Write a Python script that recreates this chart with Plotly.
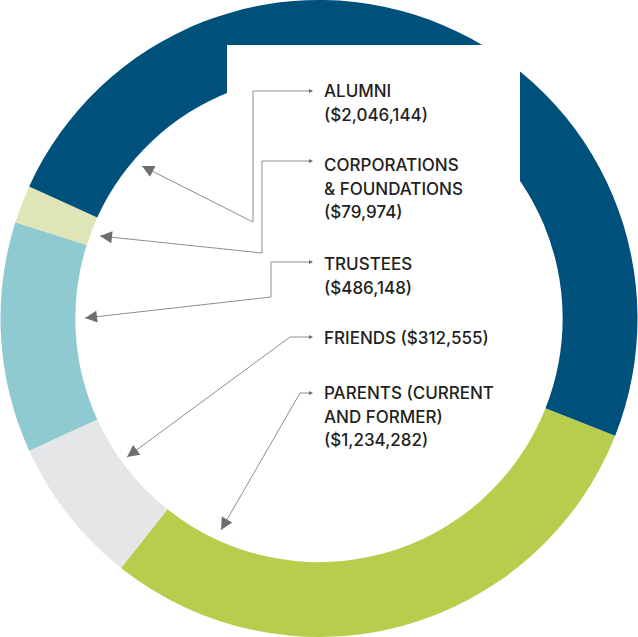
import math
import plotly.graph_objects as go

# ---- data (clockwise order starting at the Parents/Alumni boundary) ----
categories = ["PARENTS (CURRENT AND FORMER)", "FRIENDS", "TRUSTEES",
              "CORPORATIONS & FOUNDATIONS", "ALUMNI"]
values = [1234282, 312555, 486148, 79974, 2046144]
colors = ["#B9CD4C", "#E5E6E8", "#8ECACF", "#DFE5B6", "#00507C"]

# label text lines (top to bottom in the callout column)
label_lines = [
    ["ALUMNI", "($2,046,144)"],
    ["CORPORATIONS", "& FOUNDATIONS", "($79,974)"],
    ["TRUSTEES", "($486,148)"],
    ["FRIENDS ($312,555)"],
    ["PARENTS (CURRENT", "AND FORMER)", "($1,234,282)"],
]

W, H = 638, 637


def px(x):
    return x / W


def py(y):
    return 1 - y / H


fig = go.Figure(go.Pie(
    labels=categories, values=values, hole=0.765, sort=False,
    direction="clockwise", rotation=111.6,
    marker=dict(colors=colors, line=dict(width=0)),
    textinfo="none", hoverinfo="label+value", showlegend=False,
))

# white panel that masks the top of the ring
shapes = [dict(type="rect", xref="paper", yref="paper",
               x0=px(227), x1=px(520), y0=py(250), y1=py(45),
               fillcolor="white", line=dict(width=0), layer="above")]

# connector layout
first_text_y = [91, 165, 264, 338, 393]
line_gap = 23.5
conn_y = [91, 161, 262, 337, 393]
elbow = [(253, 222), (262, 253), (271, 297), (290, 337), (300, 393)]
tips = [(142, 166), (100, 236), (85, 318), (127, 457), (221, 530)]
text_x = 322
small_tip_x = 313

annotations = []
line_color = "#8C8D90"
head_color = "#6D6E71"
for lines, ty, cy, (ex, ey), (tx, tyy) in zip(label_lines, first_text_y, conn_y, elbow, tips):
    for k, s in enumerate(lines):
        annotations.append(dict(
            x=px(text_x), y=py(ty + k * line_gap), xref="paper", yref="paper",
            text=s, showarrow=False, xanchor="left", yanchor="middle",
            font=dict(family="Inter", size=17, color="#231F20", weight=500)))
    # elbow + diagonal connector
    shapes.append(dict(type="path", xref="paper", yref="paper",
                       path=(f"M {px(small_tip_x - 2)},{py(cy)} L {px(ex)},{py(cy)} "
                             f"L {px(ex)},{py(ey)} L {px(tx)},{py(tyy)}"),
                       line=dict(color=line_color, width=1), layer="above"))
    # big arrowhead at the ring end
    dx, dy = ex - tx, ey - tyy
    d = math.hypot(dx, dy)
    annotations.append(dict(
        x=px(tx), y=py(tyy), xref="paper", yref="paper", text="",
        showarrow=True, ax=dx / d * 8, ay=dy / d * 8, axref="pixel", ayref="pixel",
        arrowhead=2, arrowsize=2.4, arrowwidth=1, arrowcolor=head_color,
        standoff=0))
    # small arrowhead near the text
    annotations.append(dict(
        x=px(small_tip_x), y=py(cy), xref="paper", yref="paper", text="",
        showarrow=True, ax=-4, ay=0, axref="pixel", ayref="pixel",
        arrowhead=2, arrowsize=0.8, arrowwidth=1, arrowcolor=head_color,
        standoff=0))

fig.update_layout(
    width=W, height=H, margin=dict(l=0, r=0, t=0, b=0),
    paper_bgcolor="white", plot_bgcolor="white",
    shapes=shapes, annotations=annotations,
)

fig.write_html("out.html", config={"displayModeBar": False},
               post_script="document.body.style.margin='0';document.body.style.padding='0';")
